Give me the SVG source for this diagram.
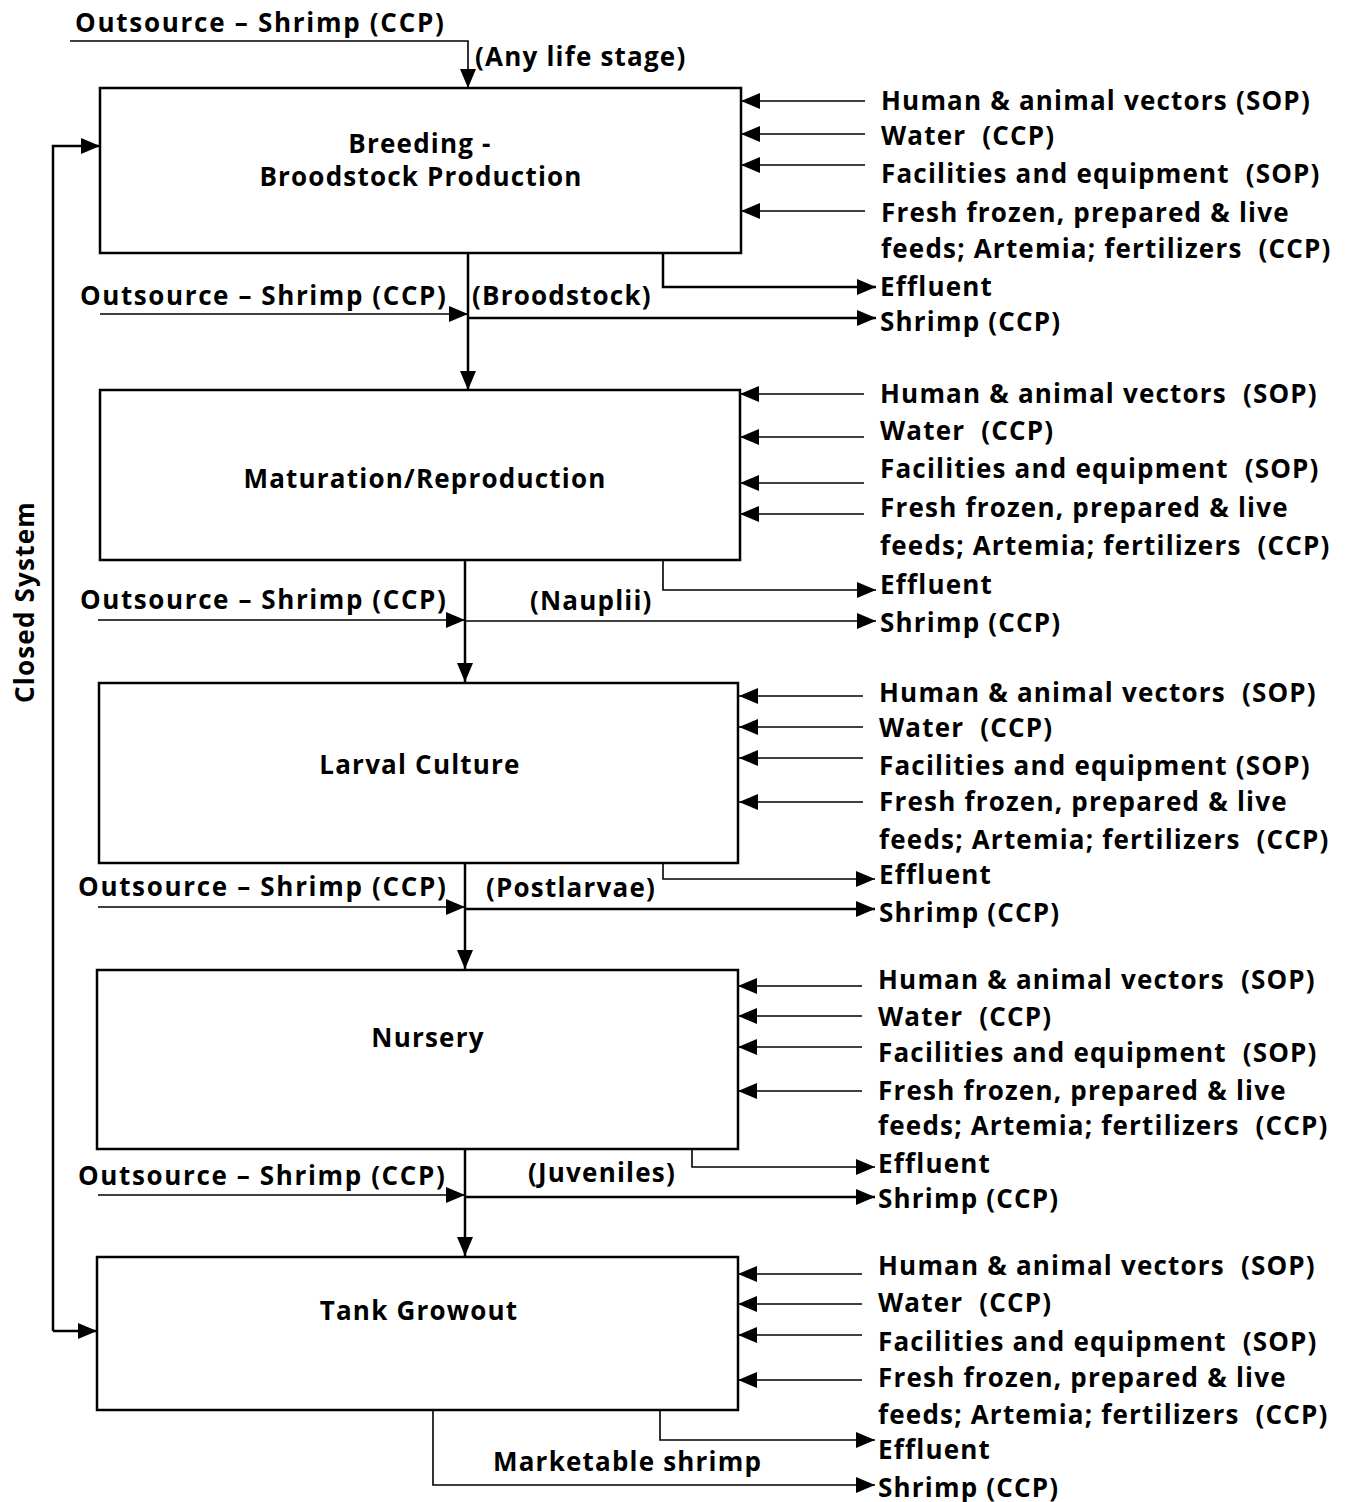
<svg xmlns="http://www.w3.org/2000/svg" width="1356" height="1502" viewBox="0 0 1356 1502">
<defs>
<marker id="ah" markerUnits="userSpaceOnUse" markerWidth="20" markerHeight="16" refX="19" refY="8" orient="auto">
<path d="M0,0 L19,8 L0,16 z" fill="#000"/>
</marker>
<style>
.t{font-family:"Open Sans","Liberation Sans",sans-serif;font-weight:700;font-size:26px;letter-spacing:1.2px;fill:#000;white-space:pre}
.c{text-anchor:middle}
.box{fill:#fff;stroke:#000;stroke-width:2.5}
.ln{fill:none;stroke:#000;stroke-width:2.5}
.th{fill:none;stroke:#000;stroke-width:1.6}
</style>
</defs>
<rect width="1356" height="1502" fill="#fff"/>

<g id="connectors">
<path class="th" d="M70,41 H468 V88" marker-end="url(#ah)"/>
<path class="ln" d="M53,1331 V146 H100" marker-end="url(#ah)"/>
<path class="ln" d="M53,1331 H97" marker-end="url(#ah)"/>
<line class="th" x1="865" y1="101" x2="741" y2="101" marker-end="url(#ah)"/>
<line class="th" x1="865" y1="134" x2="741" y2="134" marker-end="url(#ah)"/>
<line class="th" x1="865" y1="165" x2="741" y2="165" marker-end="url(#ah)"/>
<line class="th" x1="865" y1="211" x2="741" y2="211" marker-end="url(#ah)"/>
<path class="ln" d="M663,253 V287 H876" marker-end="url(#ah)"/>
<path class="ln" d="M468,318 H876" marker-end="url(#ah)"/>
<path class="th" d="M100,314 H468" marker-end="url(#ah)"/>
<path class="ln" d="M468,253 V390" marker-end="url(#ah)"/>
<line class="th" x1="864" y1="394" x2="740" y2="394" marker-end="url(#ah)"/>
<line class="th" x1="864" y1="437" x2="740" y2="437" marker-end="url(#ah)"/>
<line class="th" x1="864" y1="483" x2="740" y2="483" marker-end="url(#ah)"/>
<line class="th" x1="864" y1="514" x2="740" y2="514" marker-end="url(#ah)"/>
<path class="th" d="M663,560 V590 H876" marker-end="url(#ah)"/>
<path class="th" d="M465,621 H876" marker-end="url(#ah)"/>
<path class="th" d="M98,620 H465" marker-end="url(#ah)"/>
<path class="ln" d="M465,560 V682" marker-end="url(#ah)"/>
<line class="th" x1="863" y1="696" x2="739" y2="696" marker-end="url(#ah)"/>
<line class="th" x1="863" y1="727" x2="739" y2="727" marker-end="url(#ah)"/>
<line class="th" x1="863" y1="758" x2="739" y2="758" marker-end="url(#ah)"/>
<line class="th" x1="863" y1="802" x2="739" y2="802" marker-end="url(#ah)"/>
<path class="th" d="M663,863 V879 H875" marker-end="url(#ah)"/>
<path class="ln" d="M465,909 H875" marker-end="url(#ah)"/>
<path class="th" d="M98,907 H465" marker-end="url(#ah)"/>
<path class="ln" d="M465,863 V969" marker-end="url(#ah)"/>
<line class="th" x1="862" y1="986" x2="738" y2="986" marker-end="url(#ah)"/>
<line class="th" x1="862" y1="1016" x2="738" y2="1016" marker-end="url(#ah)"/>
<line class="th" x1="862" y1="1047" x2="738" y2="1047" marker-end="url(#ah)"/>
<line class="th" x1="862" y1="1091" x2="738" y2="1091" marker-end="url(#ah)"/>
<path class="th" d="M692,1149 V1167 H875" marker-end="url(#ah)"/>
<path class="ln" d="M465,1197 H875" marker-end="url(#ah)"/>
<path class="th" d="M98,1195 H465" marker-end="url(#ah)"/>
<path class="ln" d="M465,1149 V1256" marker-end="url(#ah)"/>
<line class="th" x1="862" y1="1274" x2="738" y2="1274" marker-end="url(#ah)"/>
<line class="th" x1="862" y1="1304" x2="738" y2="1304" marker-end="url(#ah)"/>
<line class="th" x1="862" y1="1335" x2="738" y2="1335" marker-end="url(#ah)"/>
<line class="th" x1="862" y1="1380" x2="738" y2="1380" marker-end="url(#ah)"/>
<path class="th" d="M660,1410 V1440 H875" marker-end="url(#ah)"/>
<path class="th" d="M433,1410 V1485 H875" marker-end="url(#ah)"/>
</g>

<g id="closed-system-label">
<text class="t c" transform="translate(34,602) rotate(-90)">Closed System</text>
</g>

<g id="outsource-top">
<text class="t" x="75" y="32" textLength="370" lengthAdjust="spacing">Outsource – Shrimp (CCP)</text>
<text class="t" x="475" y="66">(Any life stage)</text>
</g>

<g id="breeding">
<rect class="box" x="100" y="88" width="641" height="165"/>
<text class="t c" x="420" y="153">Breeding -</text>
<text class="t c" x="421" y="186">Broodstock Production</text>
</g>
<g id="breeding-io">
<text class="t" x="881" y="110">Human &amp; animal vectors (SOP)</text>
<text class="t" x="881" y="145">Water  (CCP)</text>
<text class="t" x="881" y="183">Facilities and equipment  (SOP)</text>
<text class="t" x="881" y="222">Fresh frozen, prepared &amp; live</text>
<text class="t" x="881" y="258">feeds; Artemia; fertilizers  (CCP)</text>
<text class="t" x="880" y="296">Effluent</text>
<text class="t" x="880" y="331">Shrimp (CCP)</text>
<text class="t" x="80" y="305" textLength="367" lengthAdjust="spacing">Outsource – Shrimp (CCP)</text>
<text class="t" x="472" y="305">(Broodstock)</text>
</g>

<g id="maturation">
<rect class="box" x="100" y="390" width="640" height="170"/>
<text class="t c" x="425" y="488">Maturation/Reproduction</text>
</g>
<g id="maturation-io">
<text class="t" x="880" y="403">Human &amp; animal vectors  (SOP)</text>
<text class="t" x="880" y="440">Water  (CCP)</text>
<text class="t" x="880" y="478">Facilities and equipment  (SOP)</text>
<text class="t" x="880" y="517">Fresh frozen, prepared &amp; live</text>
<text class="t" x="880" y="555">feeds; Artemia; fertilizers  (CCP)</text>
<text class="t" x="880" y="594">Effluent</text>
<text class="t" x="880" y="632">Shrimp (CCP)</text>
<text class="t" x="80" y="609" textLength="367" lengthAdjust="spacing">Outsource – Shrimp (CCP)</text>
<text class="t" x="530" y="610">(Nauplii)</text>
</g>

<g id="larval">
<rect class="box" x="99" y="683" width="639" height="180"/>
<text class="t c" x="420" y="774">Larval Culture</text>
</g>
<g id="larval-io">
<text class="t" x="879" y="702">Human &amp; animal vectors  (SOP)</text>
<text class="t" x="879" y="737">Water  (CCP)</text>
<text class="t" x="879" y="775">Facilities and equipment (SOP)</text>
<text class="t" x="879" y="811">Fresh frozen, prepared &amp; live</text>
<text class="t" x="879" y="849">feeds; Artemia; fertilizers  (CCP)</text>
<text class="t" x="879" y="884">Effluent</text>
<text class="t" x="879" y="922">Shrimp (CCP)</text>
<text class="t" x="78" y="896" textLength="369" lengthAdjust="spacing">Outsource – Shrimp (CCP)</text>
<text class="t" x="486" y="897">(Postlarvae)</text>
</g>

<g id="nursery">
<rect class="box" x="97" y="970" width="641" height="179"/>
<text class="t c" x="428" y="1047">Nursery</text>
</g>
<g id="nursery-io">
<text class="t" x="878" y="989">Human &amp; animal vectors  (SOP)</text>
<text class="t" x="878" y="1026">Water  (CCP)</text>
<text class="t" x="878" y="1062">Facilities and equipment  (SOP)</text>
<text class="t" x="878" y="1100">Fresh frozen, prepared &amp; live</text>
<text class="t" x="878" y="1135">feeds; Artemia; fertilizers  (CCP)</text>
<text class="t" x="878" y="1173">Effluent</text>
<text class="t" x="878" y="1208">Shrimp (CCP)</text>
<text class="t" x="78" y="1185" textLength="368" lengthAdjust="spacing">Outsource – Shrimp (CCP)</text>
<text class="t" x="528" y="1182">(Juveniles)</text>
</g>

<g id="growout">
<rect class="box" x="97" y="1257" width="641" height="153"/>
<text class="t c" x="419" y="1320">Tank Growout</text>
</g>
<g id="growout-io">
<text class="t" x="878" y="1275">Human &amp; animal vectors  (SOP)</text>
<text class="t" x="878" y="1312">Water  (CCP)</text>
<text class="t" x="878" y="1351">Facilities and equipment  (SOP)</text>
<text class="t" x="878" y="1387">Fresh frozen, prepared &amp; live</text>
<text class="t" x="878" y="1424">feeds; Artemia; fertilizers  (CCP)</text>
<text class="t" x="878" y="1459">Effluent</text>
<text class="t" x="878" y="1497">Shrimp (CCP)</text>
<text class="t" x="493" y="1471">Marketable shrimp</text>
</g>
</svg>
